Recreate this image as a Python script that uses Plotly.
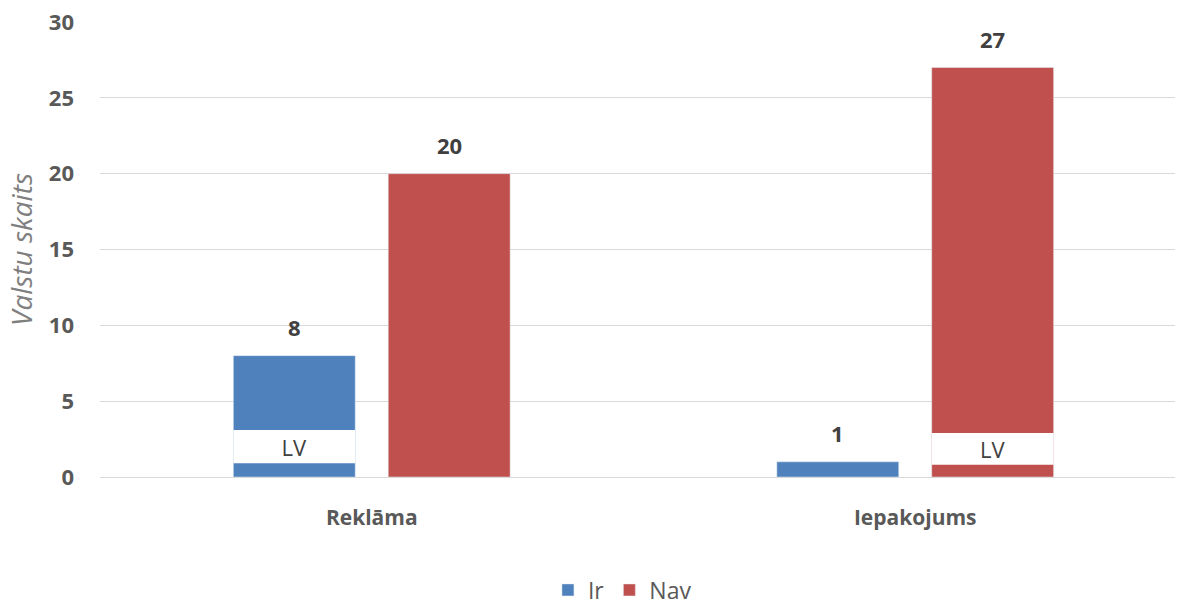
import plotly.graph_objects as go

categories = ["Reklāma", "Iepakojums"]
ir_values = [8, 1]
nav_values = [20, 27]

# "LV" band drawn as a white gap inside the bars: lower and upper edge per category
ir_lv_low = [0.9, None]
ir_lv_high = [3.1, None]
nav_lv_low = [None, 0.8]
nav_lv_high = [None, 2.9]

blue = "#4F81BD"
red = "#C0504D"
label_color = "#404040"
axis_text = "#595959"
font_family = "Open Sans"

bar_gap = 0.43
group_gap = 0.213


def band(low, high):
    base = [l if l is not None else 0 for l in low]
    height = [(h - l) if (l is not None and h is not None) else 0 for l, h in zip(low, high)]
    text = ["LV" if (l is not None) else "" for l in low]
    return base, height, text


fig = go.Figure()

fig.add_trace(go.Bar(x=categories, y=ir_values, name="Ir", marker_color=blue,
                     offsetgroup="ir", hoverinfo="x+y"))
fig.add_trace(go.Bar(x=categories, y=nav_values, name="Nav", marker_color=red,
                     offsetgroup="nav", hoverinfo="x+y"))

for grp, low, high in (("ir", ir_lv_low, ir_lv_high), ("nav", nav_lv_low, nav_lv_high)):
    b, h, t = band(low, high)
    fig.add_trace(go.Bar(
        x=categories, y=h, base=b, offsetgroup=grp, showlegend=False,
        marker=dict(color="white", line=dict(width=0)),
        text=t, textposition="inside", insidetextanchor="middle",
        constraintext="none", textangle=0,
        textfont=dict(family=font_family, size=22, color=label_color),
        hoverinfo="skip",
    ))

# value labels above each bar; horizontal offset of a bar within its group
slot = (1 - bar_gap) / 2
for series_idx, values in enumerate((ir_values, nav_values)):
    shift = (series_idx - 0.5) * slot
    for cat_idx, v in enumerate(values):
        fig.add_annotation(
            x=cat_idx + shift, y=v, xref="x", yref="y",
            text=str(v), showarrow=False, yanchor="middle", yshift=29,
            font=dict(family=font_family, size=22, color=label_color, weight="bold"),
        )

fig.update_layout(
    width=1179, height=605,
    margin=dict(l=100, r=4, t=22, b=128),
    paper_bgcolor="white", plot_bgcolor="white",
    barmode="group", bargap=bar_gap, bargroupgap=group_gap,
    showlegend=True,
    legend=dict(
        orientation="h", x=0.486, xanchor="center",
        yref="container", y=1 - 590 / 605, yanchor="middle",
        font=dict(family=font_family, size=23, color=axis_text),
        traceorder="normal",
    ),
    yaxis=dict(
        range=[0, 30], dtick=5, showgrid=True, gridcolor="#d9d9d9", gridwidth=1,
        zeroline=True, zerolinecolor="#d9d9d9", zerolinewidth=1,
        showline=False, ticks="", ticklabelstandoff=25, automargin=False,
        tickfont=dict(family=font_family, size=22, color=axis_text, weight="bold"),
        title=dict(text="Valstu skaits", standoff=8,
                   font=dict(family=font_family, size=28, color="#7f7f7f", style="italic")),
    ),
    xaxis=dict(
        range=[-0.5, 1.478], showgrid=False, showline=False, ticks="",
        ticklabelstandoff=26, automargin=False,
        tickfont=dict(family=font_family, size=21, color=axis_text, weight="bold"),
    ),
)

fig.write_html("out.html")
